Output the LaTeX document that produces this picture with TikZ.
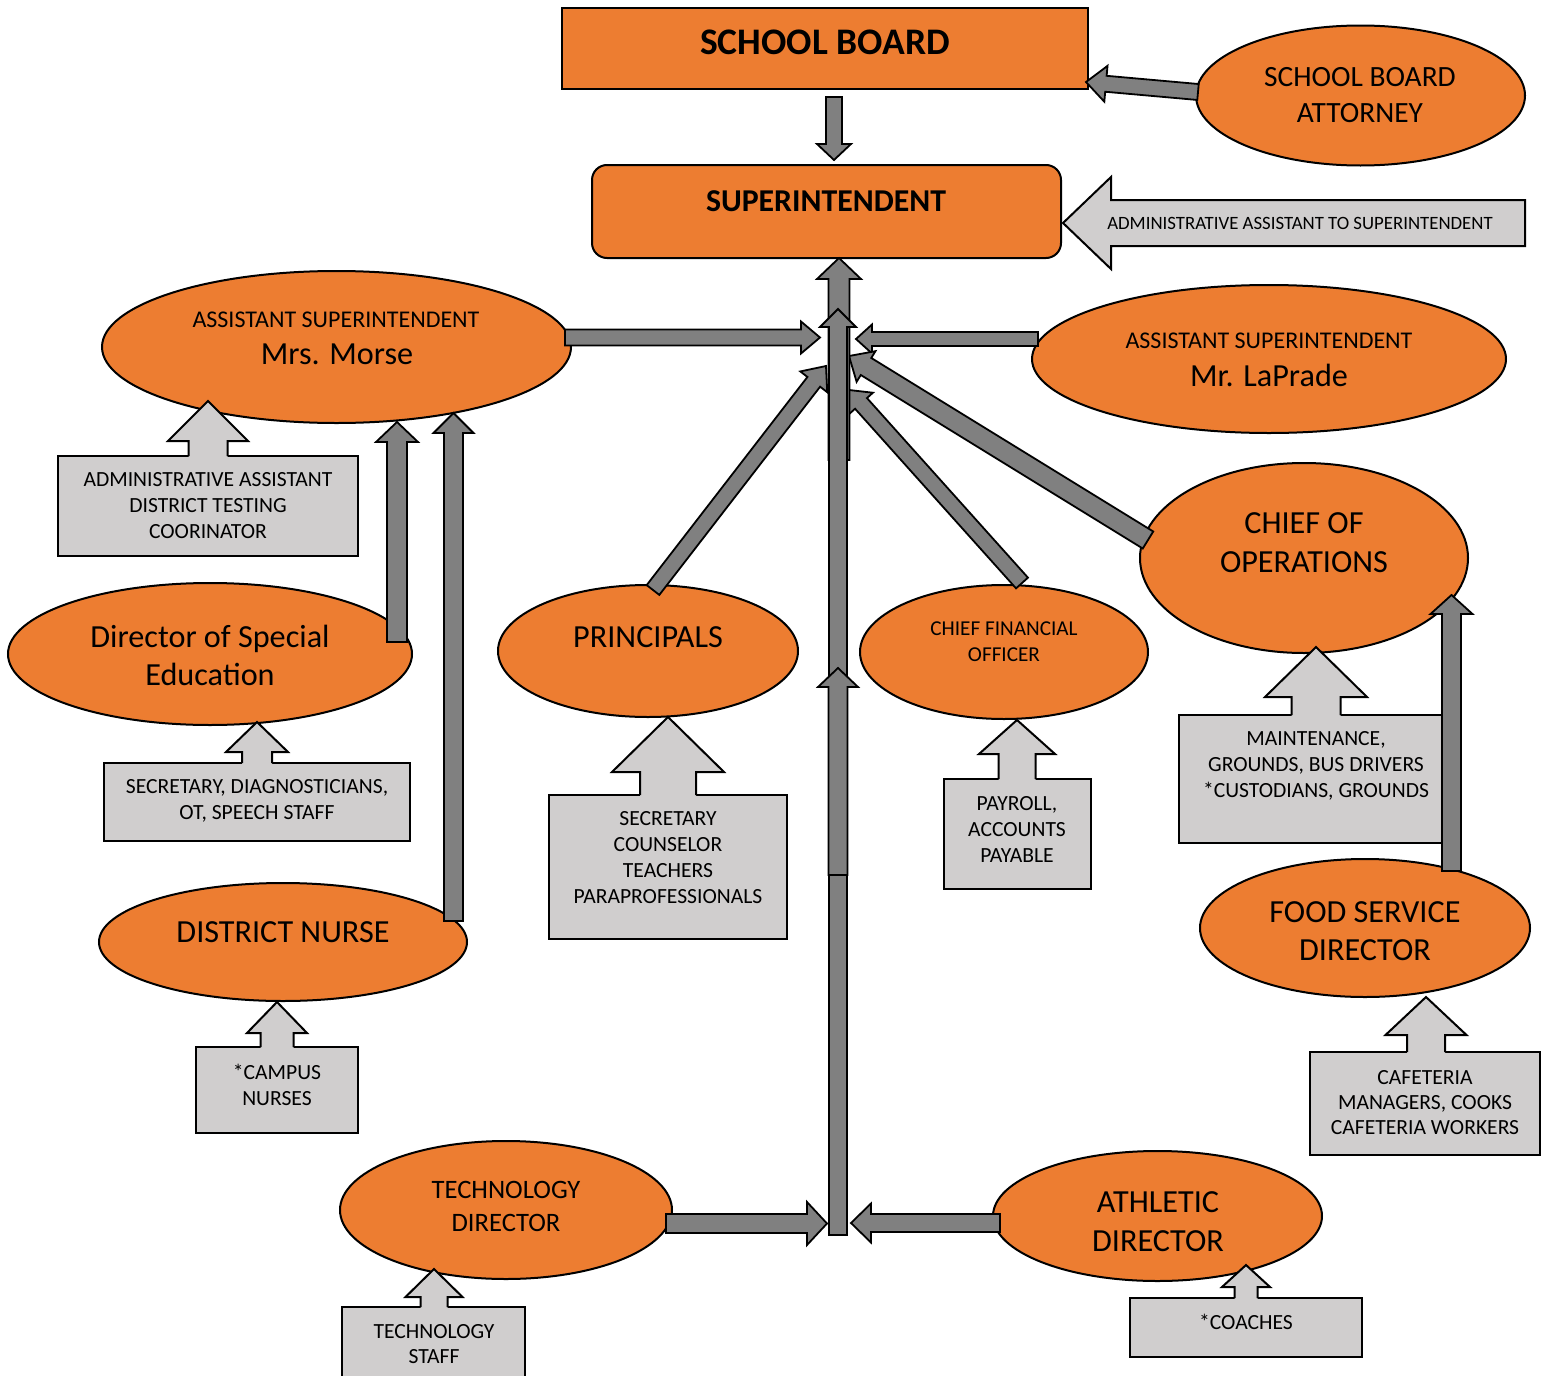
\documentclass[tikz,border=0pt]{standalone}
\usepackage{fontspec}
\setmainfont{Carlito}
\usetikzlibrary{calc,shapes.geometric}
\definecolor{org}{HTML}{ED7D31}
\definecolor{dgr}{HTML}{808080}
\definecolor{lgr}{HTML}{D0CECE}
\tikzset{
 orgell/.style={ellipse, draw=black, fill=org, line width=1pt, inner sep=0pt, outer sep=0pt},
 orgbox/.style={rectangle, draw=black, fill=org, line width=1pt, inner sep=0pt, outer sep=0pt},
 staffbox/.style={rectangle, draw=black, fill=lgr, line width=1pt, inner sep=0pt, outer sep=0pt},
 darr/.style={fill=dgr, draw=black, line width=0.9pt},
 larr/.style={fill=lgr, draw=black, line width=1pt},
 txt/.style={inner sep=0pt, outer sep=0pt, align=center, text=black},
 big/.style={txt, font=\fontsize{16.1}{19}\selectfont},
 small/.style={txt, font=\fontsize{10.8}{13}\selectfont},
}
% style, tail, tip, shaft half, head half, head length
\newcommand\blkarrow[6]{%
 \coordinate (bh) at ($(#3)!#6!(#2)$);
 \filldraw[#1] ($(#2)!#4!90:(#3)$) -- ($(bh)!#4!90:(#3)$) -- ($(bh)!#5!90:(#3)$) -- (#3) -- ($(bh)!#5!-90:(#3)$) -- ($(bh)!#4!-90:(#3)$) -- ($(#2)!#4!-90:(#3)$) -- cycle;}
% box node, tip coord, head length, head half, shaft half (px)
\newcommand\staffarrow[5]{%
 \fill[lgr] ($(#2 |- #1.north)+(-#5,2)$) -- ($(#2)+(-#5,#3)$) -- ($(#2)+(-#4,#3)$) -- (#2) -- ($(#2)+(#4,#3)$) -- ($(#2)+(#5,#3)$) -- ($(#2 |- #1.north)+(#5,2)$) -- cycle;
 \draw[black, line width=1pt] ($(#2 |- #1.north)+(-#5,0)$) -- ($(#2)+(-#5,#3)$) -- ($(#2)+(-#4,#3)$) -- (#2) -- ($(#2)+(#4,#3)$) -- ($(#2)+(#5,#3)$) -- ($(#2 |- #1.north)+(#5,0)$);}
\begin{document}
\begin{tikzpicture}[x=0.5pt,y=-0.5pt]
\useasboundingbox (0,0) rectangle (1543,1376);
\clip (0,0) rectangle (1543,1376);
% main boxes
\node[orgbox, minimum width=263pt, minimum height=40.5pt] (sb) at (825,48.5) {};
\node[orgbox, rounded corners=7.5pt, minimum width=234.5pt, minimum height=46.5pt] (supt) at (826.5,211.5) {};
% ellipses
\node[orgell, minimum width=164.5pt, minimum height=70pt] (att) at (1360.5,95.5) {};
\node[orgell, minimum width=234.5pt, minimum height=76pt] (morse) at (336.5,347) {};
\node[orgell, minimum width=237pt, minimum height=74pt] (lap) at (1269,359) {};
\node[orgell, minimum width=202pt, minimum height=71pt] (sped) at (210,654) {};
\node[orgell, minimum width=184pt, minimum height=59pt] (nurse) at (283,942) {};
\node[orgell, minimum width=150pt, minimum height=66pt] (princ) at (648,651) {};
\node[orgell, minimum width=144pt, minimum height=67pt] (cfo) at (1004,652) {};
\node[orgell, minimum width=164pt, minimum height=95pt] (ops) at (1304,558) {};
\node[orgell, minimum width=165pt, minimum height=69pt] (food) at (1365,928) {};
\node[orgell, minimum width=166pt, minimum height=69pt] (tech) at (506,1210) {};
\node[orgell, minimum width=164.5pt, minimum height=65pt] (ath) at (1157.5,1216) {};
% staff boxes
\node[staffbox, minimum width=150pt, minimum height=50pt] (adminbox) at (208,506) {};
\node[staffbox, minimum width=153pt, minimum height=39pt] (secbox) at (257,802) {};
\node[staffbox, minimum width=81pt, minimum height=43pt] (campusbox) at (277,1090) {};
\node[staffbox, minimum width=119pt, minimum height=72pt] (princbox) at (668,867) {};
\node[staffbox, minimum width=73.5pt, minimum height=55pt] (paybox) at (1017,834) {};
\node[staffbox, minimum width=131.5pt, minimum height=64pt] (maintbox) at (1310.5,779) {};
\node[staffbox, minimum width=115pt, minimum height=51.5pt] (cafebox) at (1425,1103.5) {};
\node[staffbox, minimum width=91.5pt, minimum height=43pt] (techbox) at (433.5,1350) {};
\node[staffbox, minimum width=116pt, minimum height=29.5pt] (coachbox) at (1246,1327.5) {};
% staff arrow tips
\coordinate (admintip) at (208,401);
\coordinate (sectip) at (257,722);
\coordinate (campustip) at (277,1002);
\coordinate (princtip) at (668,717);
\coordinate (paytip) at (1017,720);
\coordinate (mainttip) at (1316,647);
\coordinate (cafetip) at (1426,997);
\coordinate (techtip) at (434,1269);
\coordinate (coachtip) at (1246,1265);
\staffarrow{adminbox}{admintip}{40}{40}{19.5}
\staffarrow{secbox}{sectip}{30}{31}{15}
\staffarrow{campusbox}{campustip}{31}{30}{16.5}
\staffarrow{princbox}{princtip}{55}{56}{28}
\staffarrow{paybox}{paytip}{34}{38}{18.5}
\staffarrow{maintbox}{mainttip}{50}{51}{24.5}
\staffarrow{cafebox}{cafetip}{38}{40.5}{19}
\staffarrow{techbox}{techtip}{28}{28.5}{13.5}
\staffarrow{coachbox}{coachtip}{22}{24}{11.5}
% connector end points
\coordinate (sb-o) at (834,97);   \coordinate (supt-i) at (834,160);
\coordinate (att-o) at (1198,92); \coordinate (sb-i) at (1086,82);
\coordinate (adm-o) at (1525,223); \coordinate (supt-r) at (1063,223);
\coordinate (morse-o) at (565,337.5); \coordinate (c-l1) at (820,337.5);
\coordinate (lap-o) at (1038,339); \coordinate (c-r1) at (856,339);
\coordinate (princ-o) at (653,590); \coordinate (c-l2) at (826,366);
\coordinate (cfo-o) at (1022,583); \coordinate (c-r3) at (849,390);
\coordinate (ops-o) at (1148,540); \coordinate (c-r2) at (849,356);
\coordinate (ctop-o) at (839,460); \coordinate (supt-b) at (839,258);
\coordinate (cbar-o) at (838,1235); \coordinate (cbar-i) at (838,309);
\coordinate (cbot-o) at (838,875); \coordinate (cbot-i) at (838,668);
\coordinate (sped-o) at (397,642); \coordinate (morse-i1) at (397,422);
\coordinate (nurse-o) at (453.5,921); \coordinate (morse-i2) at (453.5,413);
\coordinate (food-o) at (1451.5,871); \coordinate (ops-i) at (1451.5,595);
\coordinate (tech-o) at (666,1223.5); \coordinate (c-bl) at (827,1223.5);
\coordinate (ath-o) at (1000,1223); \coordinate (c-br) at (851,1223);
% connectors
\blkarrow{darr}{sb-o}{supt-i}{4pt}{8.5pt}{8pt}
\blkarrow{darr}{att-o}{sb-i}{4pt}{9pt}{10pt}
\blkarrow{larr}{adm-o}{supt-r}{11.5pt}{23pt}{24pt}
\blkarrow{darr}{morse-o}{c-l1}{4pt}{8pt}{9.5pt}
\blkarrow{darr}{lap-o}{c-r1}{3.5pt}{7.25pt}{8pt}
\blkarrow{darr}{princ-o}{c-l2}{4pt}{8.5pt}{10pt}
\blkarrow{darr}{cfo-o}{c-r3}{4pt}{8pt}{9pt}
\blkarrow{darr}{ops-o}{c-r2}{5pt}{9pt}{10pt}
\blkarrow{darr}{ctop-o}{supt-b}{5.25pt}{11pt}{10.5pt}
\blkarrow{darr}{cbar-o}{cbar-i}{4.5pt}{9pt}{9pt}
\blkarrow{darr}{cbot-o}{cbot-i}{4.75pt}{10pt}{9.5pt}
\blkarrow{darr}{sped-o}{morse-i1}{5pt}{10.5pt}{10pt}
\blkarrow{darr}{nurse-o}{morse-i2}{4.75pt}{10pt}{10pt}
\blkarrow{darr}{food-o}{ops-i}{4.75pt}{10.5pt}{9.5pt}
\blkarrow{darr}{tech-o}{c-bl}{4.75pt}{10.75pt}{10pt}
\blkarrow{darr}{ath-o}{c-br}{4.5pt}{9.75pt}{10pt}
% texts
\node[txt, font=\bfseries\fontsize{18.75}{22}\selectfont] (sb-t) at (825,42) {SCHOOL BOARD};
\node[txt, font=\bfseries\fontsize{15.9}{19}\selectfont] (supt-t) at (826,201) {SUPERINTENDENT};
\node[txt, font=\fontsize{14.7}{18}\selectfont] (att-t) at (1360,95) {SCHOOL BOARD\\ATTORNEY};
\node[txt, font=\fontsize{9.4}{11}\selectfont] (adm-t) at (1300,223) {ADMINISTRATIVE ASSISTANT TO SUPERINTENDENT};
\node[txt, font=\fontsize{12}{14}\selectfont] (morse-t1) at (336,320) {ASSISTANT SUPERINTENDENT};
\node[big] (morse-t2) at (337,354) {Mrs. Morse};
\node[txt, font=\fontsize{12}{14}\selectfont] (lap-t1) at (1269,341) {ASSISTANT SUPERINTENDENT};
\node[big] (lap-t2) at (1269,375) {Mr. LaPrade};
\node[small] (admin-t) at (208,506) {ADMINISTRATIVE ASSISTANT\\DISTRICT TESTING\\COORINATOR};
\node[big] (sped-t) at (210,655) {Director of Special\\Education};
\node[small] (sec-t) at (257,800.5) {SECRETARY, DIAGNOSTICIANS,\\OT, SPEECH STAFF};
\node[big] (nurse-t) at (283,932) {DISTRICT NURSE};
\node[small] (campus-t) at (277,1085) {*CAMPUS\\NURSES};
\node[big] (princ-t) at (648,637) {PRINCIPALS};
\node[small] (princbox-t) at (668,858) {SECRETARY\\COUNSELOR\\TEACHERS\\PARAPROFESSIONALS};
\node[txt, font=\fontsize{10.6}{13}\selectfont] (cfo-t) at (1004,642) {CHIEF FINANCIAL\\OFFICER};
\node[small] (pay-t) at (1017,829) {PAYROLL,\\ACCOUNTS\\PAYABLE};
\node[big, font=\fontsize{16.1}{19.5}\selectfont] (ops-t) at (1304,542.5) {CHIEF OF\\OPERATIONS};
\node[small] (maint-t) at (1316,766) {MAINTENANCE,\\GROUNDS, BUS DRIVERS\\*CUSTODIANS, GROUNDS};
\node[big] (food-t) at (1365,931) {FOOD SERVICE\\DIRECTOR};
\node[small, font=\fontsize{10.8}{12.5}\selectfont] (cafe-t) at (1425,1103) {CAFETERIA\\MANAGERS, COOKS\\CAFETERIA WORKERS};
\node[txt, font=\fontsize{13.3}{16.5}\selectfont] (tech-t) at (506,1206.5) {TECHNOLOGY\\DIRECTOR};
\node[small, font=\fontsize{10.8}{12.5}\selectfont] (techbox-t) at (434,1344.5) {TECHNOLOGY\\STAFF};
\node[big, font=\fontsize{16.1}{19.5}\selectfont] (ath-t) at (1158,1221.5) {ATHLETIC\\DIRECTOR};
\node[small] (coach-t) at (1246,1322) {*COACHES};
\end{tikzpicture}
\end{document}
